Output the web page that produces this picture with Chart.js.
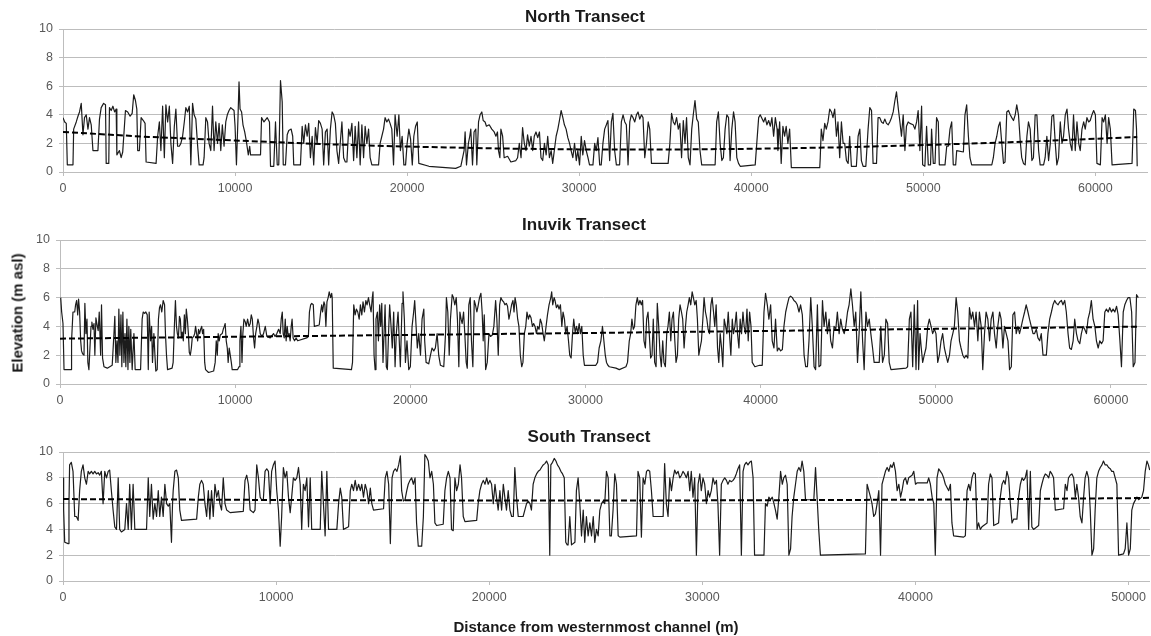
<!DOCTYPE html>
<html>
<head>
<meta charset="utf-8">
<title>Transect elevation profiles</title>
<script src="https://cdn.jsdelivr.net/npm/chart.js@4.4.0/dist/chart.umd.min.js"></script>
<style>
  html, body { margin: 0; padding: 0; background: #fff; }
  body { width: 1151px; height: 636px; position: relative; overflow: hidden; font-family: "Liberation Sans", Arial, sans-serif; }
  .panel { position: absolute; left: 0; }
  .panel-title { position: absolute; transform: translate(-50%, -50%); font-weight: bold; font-size: 17px; line-height: 20px; color: #1a1a1a; white-space: nowrap; }
  .y-title { position: absolute; left: 17px; top: 313px; transform: translate(-50%, -50%) rotate(-90deg); font-weight: bold; font-size: 15px; color: #1a1a1a; white-space: nowrap; }
  .x-title { position: absolute; left: 596px; top: 626px; transform: translate(-50%, -50%); font-weight: bold; font-size: 15px; color: #1a1a1a; white-space: nowrap; }
</style>
</head>
<body>
<canvas id="northChart" class="panel" width="1151" height="200" style="top:0px"></canvas>
<canvas id="inuvikChart" class="panel" width="1151" height="200" style="top:211px"></canvas>
<canvas id="southChart" class="panel" width="1151" height="200" style="top:423px"></canvas>
<div class="panel-title" style="left:585px; top:17px">North Transect</div>
<div class="panel-title" style="left:584px; top:225px">Inuvik Transect</div>
<div class="panel-title" style="left:589px; top:437px">South Transect</div>
<div class="y-title">Elevation (m asl)</div>
<div class="x-title">Distance from westernmost channel (m)</div>
<script>
// Tick labels
const elevationTicks = [0, 2, 4, 6, 8, 10];
const northDistanceTicks = [0, 10000, 20000, 30000, 40000, 50000, 60000];
const inuvikDistanceTicks = [0, 10000, 20000, 30000, 40000, 50000, 60000];
const southDistanceTicks = [0, 10000, 20000, 30000, 40000, 50000];

// [distance (m), elevation (m asl)]
const northProfile = [
  [0,3.8],[100,3.5],[190,3.4],[250,0.5],[580,0.5],[620,3.0],[770,3.5],[870,3.9],[960,4.2],[1060,4.8],
  [1160,2.6],[1250,3.8],[1350,4.0],[1450,3.0],[1540,3.8],[1640,3.3],[1740,1.5],[2030,1.5],[2120,3.7],[2220,4.5],
  [2360,4.8],[2470,4.7],[2510,0.6],[2660,0.6],[2700,4.5],[2800,4.3],[2900,4.6],[3000,4.2],[3090,4.4],[3130,1.2],
  [3280,1.5],[3380,1.0],[3470,1.4],[3630,4.3],[3760,4.2],[3900,3.9],[4020,4.1],[4110,5.4],[4210,5.0],[4290,4.4],
  [4340,1.5],[4440,1.5],[4540,3.8],[4670,3.6],[4770,3.4],[4830,0.7],[5410,0.6],[5500,2.5],[5600,3.5],[5690,1.5],
  [5790,4.6],[5890,1.0],[5980,4.7],[6080,3.5],[6180,4.6],[6270,2.0],[6370,0.6],[6470,3.2],[6560,4.4],[6660,1.8],
  [6760,1.8],[6850,2.0],[6950,2.5],[7050,3.5],[7140,4.5],[7240,4.2],[7340,4.6],[7430,0.5],[7530,4.8],[7620,4.0],
  [7720,3.7],[7820,1.9],[7910,0.5],[8140,0.5],[8200,1.0],[8300,3.8],[8400,3.5],[8490,2.0],[8590,1.5],[8690,4.6],
  [8780,1.5],[8880,3.5],[8980,2.0],[9070,3.4],[9170,1.5],[9260,3.3],[9360,1.8],[9460,3.5],[9550,4.0],[9650,4.3],
  [9750,4.5],[9840,4.4],[9940,4.3],[10000,3.2],[10080,0.5],[10170,3.8],[10230,6.3],[10290,4.4],[10380,4.2],[10460,3.3],
  [10560,2.8],[10650,2.2],[10770,1.2],[10850,1.8],[10900,1.2],[11480,1.2],[11540,3.8],[11680,3.5],[11870,3.8],[12000,3.5],
  [12060,0.4],[12250,0.4],[12350,3.5],[12450,0.5],[12540,0.5],[12640,6.4],[12740,4.9],[12800,0.5],[12930,0.5],[13030,2.6],
  [13120,2.9],[13260,3.0],[13350,2.5],[13410,0.5],[13800,0.5],[13900,3.2],[13990,2.0],[14090,3.3],[14190,2.5],[14280,3.4],
  [14380,1.0],[14480,2.5],[14570,0.5],[14670,3.1],[14770,2.0],[14860,3.6],[14960,3.4],[15060,3.0],[15150,0.5],[15250,2.8],
  [15350,3.0],[15440,0.5],[15540,3.0],[15640,4.2],[15730,4.0],[15830,3.4],[15920,1.5],[16020,0.6],[16210,3.5],[16310,1.0],
  [16410,0.7],[16500,0.7],[16600,3.0],[16690,2.5],[16790,3.4],[16890,0.8],[16980,3.2],[17080,1.0],[17180,3.5],[17270,0.5],
  [17370,3.3],[17470,1.0],[17560,3.2],[17660,2.0],[17760,3.0],[17850,1.0],[17950,0.5],[18340,0.5],[18430,2.0],[18530,2.5],
  [18630,3.0],[18720,3.8],[18820,3.5],[18920,3.7],[19010,3.4],[19110,3.0],[19210,0.5],[19300,4.0],[19420,2.5],[19520,4.0],
  [19610,1.5],[19710,2.5],[19810,0.5],[19910,0.5],[20000,2.0],[20100,3.0],[20200,2.3],[20300,0.5],[20390,2.5],[20490,3.2],
  [20590,3.5],[20680,0.6],[21270,0.4],[22240,0.3],[22820,0.25],[23120,0.4],[23310,1.5],[23370,2.8],[23450,0.5],[23560,2.0],
  [23640,2.5],[23700,3.0],[23800,0.5],[23890,2.8],[23990,3.0],[24050,0.5],[24150,3.5],[24240,4.0],[24340,4.2],[24420,3.6],
  [24530,3.5],[24610,3.2],[24770,3.3],[24920,3.0],[25060,2.8],[25160,2.5],[25250,2.8],[25310,1.5],[25390,1.0],[25450,3.0],
  [25550,2.5],[25640,1.0],[25840,1.1],[26030,0.7],[26320,0.8],[26420,1.0],[26520,2.0],[26620,1.0],[26710,3.1],[26810,2.0],
  [26910,1.5],[27000,2.6],[27100,1.8],[27200,2.5],[27300,1.5],[27390,2.5],[27490,2.8],[27590,2.4],[27690,2.8],[27780,1.0],
  [27880,0.8],[27980,2.0],[28080,1.2],[28170,2.5],[28270,1.0],[28370,1.5],[28460,0.6],[28660,2.5],[28760,3.0],[28850,3.6],
  [28950,4.3],[29050,3.8],[29140,3.3],[29240,3.0],[29340,2.4],[29440,2.0],[29530,1.5],[29630,1.0],[29730,2.0],[29830,0.8],
  [29920,1.5],[30020,0.5],[30120,2.5],[30210,1.2],[30310,2.2],[30410,1.5],[30510,1.0],[30600,0.5],[30800,0.5],[30900,2.0],
  [30990,1.5],[31090,2.4],[31190,0.5],[31280,0.5],[31380,2.0],[31480,3.0],[31580,3.3],[31670,3.6],[31770,0.8],[31870,3.5],
  [31960,4.1],[32060,1.5],[32160,0.5],[32350,0.5],[32450,3.5],[32550,4.0],[32650,3.5],[32740,3.3],[32840,0.5],[32940,3.5],
  [33030,4.0],[33130,3.8],[33230,3.5],[33330,4.0],[33420,4.2],[33520,3.7],[33620,4.0],[33710,3.8],[33810,1.0],[33910,2.0],
  [34010,3.5],[34100,3.0],[34200,0.6],[35170,0.6],[35270,2.0],[35370,4.1],[35470,3.5],[35560,3.3],[35660,3.8],[35760,3.0],
  [35850,3.4],[35950,1.0],[36050,3.6],[36150,2.0],[36240,3.8],[36340,1.0],[36440,0.5],[36540,3.0],[36630,4.0],[36730,5.0],
  [36830,3.7],[36920,3.5],[37020,1.5],[37120,0.5],[37900,0.5],[37990,3.5],[38090,4.2],[38190,2.0],[38290,0.8],[38380,1.0],
  [38480,3.0],[38580,4.0],[38680,3.8],[38770,0.8],[38870,3.0],[38970,4.2],[39060,3.5],[39160,1.0],[39260,0.6],[39360,0.4],
  [40230,0.5],[40430,3.8],[40520,4.0],[40720,3.5],[40810,3.8],[40910,3.3],[41010,3.6],[41110,3.2],[41200,3.8],[41300,2.5],
  [41400,3.8],[41500,3.0],[41550,1.5],[41650,3.5],[41740,0.6],[41840,3.2],[41940,2.5],[42030,3.2],[42130,2.0],[42230,3.0],
  [42330,0.3],[43980,0.3],[44010,1.0],[44070,3.0],[44170,2.2],[44270,3.4],[44360,3.0],[44460,3.5],[44560,4.4],[44660,4.2],
  [44750,3.8],[44850,4.4],[44950,2.5],[45040,3.5],[45140,1.0],[45240,3.5],[45340,2.0],[45430,2.0],[45530,0.8],[45630,0.6],
  [45720,2.5],[45820,0.4],[46110,0.4],[46210,2.5],[46310,3.0],[46400,0.8],[46500,0.4],[46660,0.4],[46790,3.0],[46890,4.5],
  [46990,4.3],[47080,0.6],[47280,0.6],[47370,3.8],[47470,3.8],[47570,3.5],[47670,3.4],[47760,3.7],[47860,3.4],[47960,3.3],
  [48050,3.5],[48150,3.8],[48250,4.2],[48350,5.0],[48440,5.6],[48540,4.5],[48640,3.5],[48730,2.5],[48830,4.0],[48930,1.5],
  [49020,3.2],[49120,3.5],[49220,3.4],[49410,3.3],[49510,3.0],[49610,3.5],[49700,4.3],[49800,1.5],[49900,4.6],[49960,0.5],
  [50090,0.4],[50190,3.2],[50290,0.5],[50420,0.5],[50480,3.0],[50580,0.6],[50680,0.6],[50770,3.8],[50870,3.5],[50930,0.5],
  [51260,0.5],[51360,1.8],[51450,1.8],[51550,3.0],[51650,3.5],[51740,0.5],[51880,0.5],[51940,1.5],[52330,1.4],[52420,4.0],
  [52520,4.7],[52620,2.5],[52710,1.0],[52810,0.5],[53980,0.5],[54070,1.0],[54170,2.0],[54270,2.5],[54370,3.2],[54460,3.5],
  [54560,2.0],[54660,0.6],[54750,0.7],[54850,4.2],[54950,4.3],[55050,4.0],[55140,3.8],[55240,3.6],[55340,4.0],[55430,4.7],
  [55530,4.0],[55630,2.2],[55720,1.0],[55820,0.6],[55920,0.5],[56020,2.5],[56110,3.5],[56210,3.0],[56310,0.8],[56400,1.0],
  [56500,4.0],[56600,4.0],[56700,1.5],[56790,0.5],[56990,0.5],[57080,1.0],[57180,2.5],[57280,0.8],[57380,2.0],[57470,3.9],
  [57570,4.0],[57670,2.0],[57760,0.5],[57860,1.0],[57960,3.5],[58060,2.0],[58150,2.5],[58250,4.0],[58350,4.4],[58440,3.0],
  [58540,2.0],[58640,1.5],[58730,4.0],[58830,1.5],[58930,3.5],[59030,2.0],[59120,1.5],[59220,3.0],[59320,3.5],[59410,3.0],
  [59510,3.8],[59610,3.5],[59700,3.6],[59800,4.0],[59900,4.3],[60000,4.0],[60090,0.6],[60290,0.5],[60390,3.8],[60480,3.5],
  [60580,4.0],[60680,2.0],[60770,3.8],[60870,3.0],[60970,0.5],[62130,0.6],[62230,4.4],[62330,4.3],[62390,3.0],[62430,0.4]
];
const northTrend = [
  [0,2.8],[5000,2.45],[10000,2.2],[15000,1.95],[20000,1.78],[25000,1.65],[30000,1.58],
  [35000,1.57],[40000,1.62],[45000,1.72],[50000,1.88],[55000,2.08],[60000,2.32],[62430,2.45]
];

const inuvikProfile = [
  [40,6.0],[95,5.0],[170,4.2],[230,1.0],[650,1.0],[660,3.0],[740,5.0],[840,5.0],[890,5.5],[950,5.8],
  [1010,4.8],[1060,5.9],[1120,5.0],[1180,3.0],[1230,2.3],[1290,2.1],[1370,2.0],[1420,5.6],[1480,3.5],[1540,4.5],
  [1590,1.5],[1650,1.0],[1710,2.5],[1770,4.0],[1820,4.3],[1880,3.8],[1940,4.2],[1990,2.0],[2050,4.6],[2130,4.0],
  [2180,3.7],[2240,5.0],[2320,2.0],[2370,5.5],[2430,1.8],[2510,1.2],[2700,1.1],[2980,1.3],[3080,3.5],[3130,4.7],
  [3190,1.5],[3250,3.0],[3310,1.5],[3360,5.2],[3420,2.0],[3480,4.8],[3530,1.2],[3590,5.0],[3650,1.5],[3710,3.5],
  [3760,1.2],[3820,4.5],[3880,1.0],[3930,4.0],[3990,1.5],[4040,3.8],[4120,1.0],[4220,3.5],[4290,1.0],[4600,1.0],
  [4690,4.5],[4750,5.0],[4830,4.9],[4900,5.0],[4980,4.8],[5040,1.0],[5090,5.0],[5170,3.0],[5230,4.0],[5280,1.5],
  [5360,3.5],[5420,2.0],[5470,0.9],[5550,1.0],[5620,4.5],[5680,5.3],[5740,5.5],[5810,5.0],[5890,5.8],[5970,5.5],
  [6020,3.5],[6080,2.0],[6140,1.0],[6400,1.1],[6460,1.5],[6530,4.0],[6590,5.8],[6650,4.0],[6700,3.5],[6760,3.2],
  [6820,4.7],[6870,4.5],[6930,3.2],[6980,3.6],[7040,3.0],[7100,4.8],[7160,3.5],[7210,5.2],[7270,4.5],[7330,3.5],
  [7380,2.2],[7440,2.0],[7500,2.5],[7550,3.2],[7630,3.3],[7690,3.5],[7740,4.0],[7800,3.5],[7860,3.0],[7910,3.8],
  [7970,3.5],[8030,3.8],[8090,4.0],[8140,3.5],[8200,3.8],[8260,1.5],[8310,1.0],[8480,0.8],[8770,0.9],[8860,1.5],
  [8920,3.0],[8980,2.0],[9030,3.5],[9090,3.0],[9150,3.4],[9260,3.5],[9320,3.8],[9380,4.0],[9430,4.2],[9490,3.0],
  [9550,2.5],[9600,1.5],[9660,2.5],[9720,2.0],[9780,1.5],[9830,1.0],[10140,1.0],[10220,1.2],[10270,3.0],[10330,4.0],
  [10390,1.5],[10440,3.5],[10500,4.5],[10580,4.3],[10630,4.0],[10710,4.5],[10790,4.0],[10860,4.2],[10920,4.8],[10980,4.5],
  [11050,3.2],[11110,2.5],[11170,3.5],[11240,4.0],[11300,4.5],[11360,4.2],[11430,3.5],[11530,3.3],[11620,3.5],[11720,4.0],
  [11810,3.3],[12000,3.2],[12190,3.5],[12280,3.3],[12380,3.5],[12480,3.8],[12570,3.5],[12630,4.5],[12690,5.0],[12740,3.5],
  [12800,3.2],[12860,4.5],[12910,3.0],[12970,4.0],[13030,3.3],[13080,3.5],[13140,3.0],[13200,4.0],[13250,4.5],[13310,3.2],
  [13390,3.0],[13480,3.2],[13570,3.0],[14080,3.2],[14180,3.3],[14240,5.0],[14310,5.5],[14370,5.6],[14460,5.5],[14520,4.0],
  [14800,4.1],[14880,5.0],[14940,5.5],[14990,5.0],[15070,5.7],[15120,5.5],[15180,4.0],[15240,5.7],[15310,6.0],[15370,6.4],
  [15450,6.0],[15510,6.3],[15540,6.0],[15600,1.1],[16640,1.0],[16700,1.5],[16770,5.5],[16850,4.8],[16920,5.2],[17000,5.0],
  [17080,4.5],[17150,5.5],[17230,4.8],[17300,5.7],[17380,5.0],[17460,5.8],[17530,5.5],[17610,6.0],[17680,5.5],[17760,5.0],
  [17830,6.0],[17870,6.4],[17930,2.0],[17990,1.0],[18040,4.5],[18120,5.0],[18180,3.0],[18250,5.5],[18310,4.0],[18370,5.6],
  [18440,1.5],[18500,3.5],[18560,5.5],[18630,1.2],[18690,1.0],[18770,4.0],[18820,5.5],[18900,4.0],[18970,2.5],[19050,5.0],
  [19130,1.2],[19200,3.5],[19300,5.0],[19430,1.2],[19530,5.6],[19580,6.4],[19660,4.5],[19720,1.5],[19810,3.0],[19910,1.0],
  [20000,1.2],[20100,4.0],[20190,5.0],[20250,5.8],[20330,4.0],[20400,2.5],[20480,3.5],[20580,2.0],[20670,4.5],[20770,5.2],
  [20820,3.0],[20900,1.5],[21050,1.4],[21150,2.0],[21240,2.5],[21340,2.3],[21430,2.5],[21530,3.5],[21620,2.0],[21720,1.3],
  [21910,1.2],[22010,3.5],[22060,6.0],[22140,5.0],[22220,2.0],[22290,4.5],[22390,6.2],[22460,6.0],[22540,5.5],[22620,6.0],
  [22690,4.5],[22770,1.2],[22830,5.0],[22900,4.5],[22960,4.2],[23040,5.0],[23110,3.5],[23190,1.5],[23250,1.1],[23340,5.5],
  [23420,6.0],[23490,3.0],[23570,1.2],[23650,5.8],[23720,5.5],[23800,5.0],[23880,5.5],[23950,6.0],[24030,6.3],[24100,5.0],
  [24160,3.0],[24220,4.8],[24300,1.0],[24390,1.5],[24490,3.5],[24580,3.3],[24680,3.4],[24770,4.0],[24870,5.8],[24940,4.5],
  [25020,2.0],[25100,5.5],[25170,6.0],[25250,5.8],[25330,5.7],[25400,5.5],[25480,5.6],[25550,5.4],[25630,4.5],[25710,5.0],
  [25780,5.5],[25860,5.8],[25920,5.0],[25980,6.0],[26050,5.5],[26130,4.5],[26200,4.0],[26280,2.0],[26360,1.2],[26430,1.5],
  [26510,3.5],[26590,4.0],[26660,5.0],[26740,4.5],[26810,4.8],[26890,4.6],[26970,4.0],[27040,4.2],[27120,4.0],[27200,3.5],
  [27270,4.0],[27350,3.8],[27420,4.5],[27500,4.2],[27580,3.5],[27650,3.0],[27730,3.8],[27830,4.8],[27920,5.5],[28020,6.0],
  [28070,6.4],[28130,5.5],[28210,6.0],[28260,5.8],[28340,5.3],[28420,5.5],[28490,5.2],[28570,5.5],[28650,4.0],[28720,5.0],
  [28800,4.5],[28870,3.5],[28950,4.0],[29030,3.0],[29100,2.0],[29180,1.8],[29260,3.5],[29330,4.5],[29410,3.6],[29490,4.0],
  [29560,3.5],[29640,4.2],[29710,3.5],[29790,4.0],[29870,2.0],[29940,1.3],[30590,1.3],[30690,1.5],[30780,2.5],[30880,3.0],
  [30970,4.0],[31050,3.0],[31130,2.0],[31200,1.5],[31280,1.3],[31360,1.2],[31740,1.1],[31930,1.0],[32310,1.2],[32400,1.5],
  [32500,3.0],[32580,3.5],[32650,4.5],[32730,3.8],[32800,4.0],[32880,5.5],[32960,6.0],[33030,5.5],[33110,5.8],[33190,5.5],
  [33260,5.8],[33340,3.0],[33420,2.5],[33490,4.5],[33570,5.0],[33640,3.5],[33720,1.8],[33800,2.0],[33870,4.5],[33950,1.5],
  [34030,1.2],[34100,5.6],[34180,4.0],[34260,2.0],[34330,1.2],[34410,3.0],[34480,1.5],[34560,1.2],[34640,3.5],[34710,4.0],
  [34790,5.0],[34870,3.0],[34940,4.5],[35020,5.0],[35100,3.0],[35170,1.5],[35250,2.0],[35320,4.5],[35400,5.5],[35480,5.0],
  [35550,4.5],[35630,2.5],[35710,4.0],[35780,5.0],[35860,5.5],[35930,6.0],[36010,5.5],[36090,6.4],[36160,6.0],[36240,5.5],
  [36320,5.8],[36390,4.5],[36470,2.0],[36540,2.5],[36620,3.0],[36700,4.5],[36770,6.0],[36850,5.0],[36930,4.5],[37000,3.8],
  [37080,3.5],[37160,5.5],[37230,6.0],[37310,5.0],[37380,4.0],[37460,5.5],[37540,2.5],[37610,1.5],[37690,3.5],[37770,2.5],
  [37840,1.2],[37920,4.5],[38000,4.0],[38070,3.5],[38150,5.0],[38220,3.5],[38300,2.0],[38380,4.5],[38450,3.5],[38530,4.0],
  [38610,5.0],[38680,3.5],[38760,2.5],[38830,4.5],[38910,3.5],[38990,5.0],[39060,4.0],[39140,3.5],[39220,5.2],[39290,3.0],
  [39370,5.0],[39450,4.0],[39520,1.5],[39670,1.2],[39940,1.3],[40090,1.3],[40190,5.0],[40280,6.3],[40380,5.5],[40470,4.5],
  [40570,5.5],[40660,3.0],[40760,2.5],[40850,4.5],[40950,2.3],[41040,2.5],[41140,2.3],[41240,2.4],[41330,4.0],[41430,5.0],
  [41520,5.5],[41620,6.0],[41710,6.1],[41810,6.0],[41900,5.8],[42000,5.7],[42090,5.5],[42190,5.0],[42280,5.5],[42380,4.8],
  [42480,2.0],[42570,1.2],[42670,1.2],[42760,3.0],[42860,6.0],[42950,4.0],[43050,1.2],[43140,1.0],[43240,5.5],[43330,1.2],
  [43430,1.3],[43530,5.8],[43620,4.0],[43720,5.0],[43810,3.5],[43910,4.5],[44000,3.0],[44100,2.5],[44190,4.0],[44290,3.8],
  [44380,5.0],[44480,3.5],[44570,4.5],[44670,3.8],[44770,3.5],[44860,4.0],[44960,5.0],[45050,5.5],[45150,6.6],[45240,5.5],
  [45340,4.0],[45430,5.0],[45530,1.5],[45620,3.5],[45720,6.4],[45820,3.0],[45910,1.0],[46010,5.0],[46100,4.0],[46200,4.5],
  [46290,3.5],[46390,2.5],[46480,1.5],[46770,1.5],[46860,4.0],[46960,1.5],[47060,2.0],[47150,4.5],[47250,4.2],[47340,1.5],
  [47440,1.0],[48300,1.1],[48390,1.2],[48490,4.5],[48580,5.0],[48680,1.2],[48770,5.5],[48870,1.0],[48960,5.8],[49020,1.0],
  [49100,3.5],[49170,2.5],[49250,1.5],[49340,2.0],[49440,2.5],[49540,4.0],[49630,4.5],[49730,4.0],[49820,3.5],[49920,3.8],
  [50010,3.5],[50110,1.5],[50200,2.0],[50300,3.0],[50390,3.5],[50490,2.5],[50580,2.0],[50680,1.5],[50780,2.0],[50870,3.0],
  [50970,3.5],[51060,4.0],[51160,6.0],[51250,5.0],[51350,3.0],[51440,2.5],[51540,2.0],[51630,1.8],[51730,2.0],[51830,1.8],
  [51920,5.3],[52020,4.5],[52110,5.0],[52210,4.0],[52300,5.0],[52400,3.0],[52490,5.0],[52590,4.0],[52680,1.0],[52780,3.5],
  [52870,5.0],[52970,4.5],[53070,3.0],[53160,4.5],[53260,5.0],[53350,3.5],[53450,2.5],[53540,4.0],[53640,5.0],[53730,4.5],
  [53830,2.5],[53920,4.0],[54020,3.5],[54120,3.0],[54210,1.0],[54310,1.2],[54400,4.8],[54500,5.0],[54590,3.5],[54690,4.0],
  [54780,3.5],[54880,4.0],[54970,4.5],[55070,5.0],[55160,5.5],[55260,5.0],[55350,4.5],[55450,4.0],[55550,3.5],[55640,3.5],
  [55740,3.8],[55830,3.2],[55930,3.0],[56020,3.5],[56120,2.0],[56310,2.0],[56400,3.5],[56500,4.5],[56600,5.0],[56690,5.5],
  [56790,5.8],[56880,5.6],[56980,5.5],[57070,5.7],[57170,5.8],[57260,5.5],[57360,5.8],[57450,5.0],[57550,3.5],[57640,2.5],
  [57740,2.4],[57840,3.0],[57930,4.5],[58030,3.5],[58120,3.0],[58220,2.8],[58310,3.5],[58410,4.0],[58500,3.8],[58600,3.5],
  [58690,4.5],[58790,5.0],[58880,5.8],[58980,4.5],[59080,4.0],[59170,3.0],[59270,2.5],[59360,3.0],[59460,2.8],[59550,3.0],
  [59650,5.0],[59740,5.2],[59840,5.0],[59930,5.3],[60030,5.0],[60120,5.2],[60220,5.0],[60320,5.4],[60410,4.8],[60510,3.0],
  [60600,1.2],[60700,5.0],[60790,5.5],[60890,5.8],[60980,6.0],[61080,6.0],[61180,5.0],[61270,1.2],[61370,1.5],[61460,6.2],
  [61560,6.0]
];
const inuvikTrend = [
  [0,3.15],[10000,3.28],[20000,3.41],[30000,3.54],[40000,3.68],[50000,3.83],[61560,3.98]
];

const southProfile = [
  [0,8.0],[30,5.5],[80,3.0],[240,2.9],[280,6.0],[310,9.0],[390,9.2],[470,8.5],[550,5.0],[630,5.0],
  [710,4.7],[780,7.0],[860,8.5],[940,9.0],[1020,8.0],[1100,7.5],[1180,8.5],[1250,8.3],[1330,8.5],[1410,8.3],
  [1490,8.5],[1570,8.3],[1650,8.4],[1720,8.2],[1800,8.5],[1880,6.0],[1960,8.5],[2040,8.0],[2120,8.5],[2190,8.6],
  [2270,7.0],[2350,5.5],[2430,4.2],[2510,4.0],[2590,8.0],[2660,4.0],[2740,3.8],[2900,4.0],[2980,6.0],[3060,4.0],
  [3130,7.5],[3210,4.0],[3290,7.5],[3370,4.0],[3920,4.0],[4000,8.0],[4070,5.0],[4150,7.5],[4230,4.8],[4310,6.0],
  [4390,5.0],[4470,7.0],[4540,5.0],[4620,6.5],[4700,5.0],[4780,7.5],[4860,6.0],[4940,5.8],[5010,6.0],[5090,3.0],
  [5140,6.0],[5170,7.0],[5250,8.5],[5330,8.6],[5410,8.0],[5480,5.5],[5560,4.7],[6270,4.8],[6350,6.5],[6420,7.5],
  [6500,7.8],[6580,7.5],[6660,6.0],[6740,5.0],[6820,7.0],[6890,4.8],[6970,7.0],[7050,5.0],[7130,7.5],[7210,6.5],
  [7290,7.0],[7360,6.0],[7440,5.5],[7520,8.0],[7600,6.0],[7680,5.5],[7840,5.3],[8460,5.4],[8540,7.8],[8620,8.2],
  [8700,7.5],[8780,5.5],[8930,5.3],[9010,5.5],[9090,9.0],[9170,8.0],[9250,6.5],[9320,6.3],[9400,6.3],[9480,8.5],
  [9560,8.7],[9640,8.5],[9720,6.0],[9790,8.5],[9870,9.0],[9950,9.3],[10030,7.0],[10110,5.5],[10190,2.7],[10260,5.0],
  [10340,8.8],[10420,8.0],[10500,8.5],[10580,6.5],[10660,5.3],[10730,6.5],[10810,8.0],[10890,7.8],[10970,8.0],[11050,8.8],
  [11130,7.5],[11200,4.0],[11280,7.5],[11360,7.0],[11440,8.0],[11520,4.2],[11600,8.0],[11670,4.0],[12070,4.0],[12140,8.5],
  [12220,6.0],[12300,3.5],[12380,8.5],[12460,4.0],[12850,4.0],[12930,6.0],[13010,7.2],[13080,6.5],[13160,4.0],[13400,4.2],
  [13480,7.0],[13550,7.5],[13630,7.0],[13710,7.8],[13790,7.0],[13870,7.5],[13950,7.0],[14020,7.5],[14100,6.5],[14180,7.5],
  [14260,7.0],[14340,6.0],[14420,7.2],[14490,6.0],[14570,5.5],[15040,5.6],[15120,8.0],[15200,8.5],[15280,7.5],[15360,2.9],
  [15440,8.0],[15510,8.5],[15590,8.7],[15670,8.5],[15750,9.0],[15830,9.7],[15890,7.0],[15970,6.2],[16050,6.3],[16130,7.0],
  [16200,7.5],[16280,7.8],[16360,8.0],[16440,7.5],[16520,8.0],[16590,4.5],[16670,2.7],[16830,2.7],[16910,5.0],[16980,9.8],
  [17060,9.6],[17140,9.3],[17220,8.0],[17300,8.5],[17380,7.5],[17450,4.5],[17530,4.3],[17840,4.4],[17920,7.0],[18000,8.0],
  [18080,8.5],[18160,8.0],[18230,4.0],[18310,3.9],[18390,8.0],[18470,7.0],[18550,7.5],[18630,9.0],[18700,8.0],[18780,5.0],
  [18860,4.6],[19410,4.7],[19480,6.0],[19560,7.0],[19640,7.5],[19720,7.8],[19800,7.5],[19880,8.0],[19950,7.5],[20030,7.8],
  [20110,7.5],[20190,6.0],[20270,7.5],[20340,6.5],[20420,5.5],[20500,7.0],[20580,5.5],[20660,7.5],[20730,6.5],[20810,5.5],
  [20890,7.0],[20970,5.5],[21050,5.0],[21130,5.0],[21200,8.8],[21280,6.5],[21360,5.0],[21590,5.0],[21670,5.5],[21750,6.0],
  [21830,6.2],[21910,6.0],[21980,5.5],[22060,7.5],[22140,8.0],[22220,8.3],[22300,8.5],[22380,8.6],[22450,8.8],[22530,9.0],
  [22610,9.1],[22690,9.3],[22770,9.0],[22840,2.0],[22890,9.0],[22970,9.2],[23050,9.5],[23130,9.3],[23200,9.0],[23280,8.8],
  [23360,8.5],[23440,8.3],[23520,8.0],[23590,3.0],[23660,2.8],[23700,2.8],[23780,5.0],[23860,2.8],[24020,3.0],[24090,7.0],
  [24170,8.0],[24250,6.0],[24330,3.5],[24410,5.5],[24480,3.0],[24560,5.0],[24640,3.5],[24720,4.5],[24800,3.5],[24880,5.0],
  [24950,3.0],[25030,4.0],[25110,3.5],[25190,5.5],[25270,6.0],[25340,6.2],[25420,6.0],[25500,8.5],[25580,8.0],[25660,3.5],
  [25730,3.5],[25810,5.5],[25890,8.3],[25970,7.5],[26050,3.5],[26130,3.4],[26910,3.5],[26980,8.5],[27060,8.0],[27140,3.4],
  [27220,8.0],[27300,7.5],[27380,8.5],[27450,8.6],[27530,8.5],[27610,7.0],[27690,5.0],[28160,5.0],[28230,9.1],[28310,6.0],
  [28390,5.0],[28470,8.0],[28550,7.0],[28630,8.0],[28700,8.6],[28780,8.3],[28860,8.5],[28940,8.0],[29020,8.2],[29090,8.5],
  [29170,8.3],[29250,8.0],[29330,8.5],[29410,7.0],[29480,8.5],[29560,6.5],[29640,8.0],[29720,2.0],[29800,7.5],[29880,8.3],
  [29950,7.0],[30030,8.0],[30110,7.5],[30190,6.0],[30270,7.0],[30340,6.5],[30420,7.0],[30500,8.0],[30580,7.5],[30660,7.8],
  [30730,6.0],[30810,2.0],[30890,7.5],[30970,7.8],[31050,8.0],[31130,7.8],[31200,7.5],[31280,7.8],[31360,7.7],[31440,7.8],
  [31520,8.0],[31590,8.3],[31670,8.7],[31750,9.0],[31830,2.0],[31910,8.5],[31980,9.0],[32060,9.2],[32140,9.0],[32220,9.2],
  [32300,9.3],[32380,8.0],[32450,2.0],[32890,2.0],[32960,6.0],[33040,5.8],[33120,6.5],[33200,6.3],[33280,6.5],[33360,6.0],
  [33430,5.5],[33510,4.8],[33590,6.5],[33670,8.5],[33750,7.5],[33820,8.0],[33900,8.2],[33980,7.5],[34060,2.0],[34140,2.5],
  [34210,5.0],[34290,6.5],[34370,7.5],[34450,8.5],[34530,8.8],[34610,8.5],[34680,9.3],[34760,8.5],[34840,6.3],[35230,6.3],
  [35310,8.8],[35390,6.3],[35460,4.0],[35540,2.0],[37650,2.1],[37730,7.5],[37810,7.0],[37890,6.5],[37960,6.0],[38040,5.0],
  [38120,5.2],[38200,6.0],[38280,7.0],[38360,2.0],[38430,7.5],[38510,8.0],[38590,8.5],[38670,8.8],[38750,8.5],[38830,9.0],
  [38900,8.8],[38980,9.2],[39060,8.5],[39140,7.0],[39220,7.5],[39300,6.5],[39370,7.0],[39450,7.8],[39530,8.0],[39610,7.5],
  [39680,8.0],[39840,8.2],[39920,8.5],[40000,7.5],[40070,7.6],[40550,7.6],[40620,8.0],[40700,7.5],[40780,6.5],[40860,6.0],
  [40930,2.0],[41010,8.0],[41090,8.7],[41170,8.5],[41250,8.3],[41320,8.0],[41400,7.5],[41560,7.0],[41640,7.5],[41710,4.5],
  [41790,3.5],[42260,3.4],[42340,3.5],[42420,7.0],[42500,7.5],[42570,7.0],[42650,8.0],[42730,8.4],[42810,8.3],[42890,4.0],
  [42960,4.5],[43040,4.0],[43120,4.2],[43360,4.5],[43430,7.5],[43510,8.3],[43590,8.0],[43670,4.3],[43900,4.5],[43980,6.5],
  [44060,7.5],[44140,7.8],[44210,7.5],[44290,8.5],[44370,8.0],[44450,6.0],[44530,4.5],[44610,4.8],[44760,4.8],[44840,6.5],
  [44920,7.5],[45000,8.0],[45070,7.8],[45150,8.0],[45230,8.6],[45310,4.0],[45390,8.5],[45460,4.2],[45540,4.0],[45780,4.3],
  [45860,7.0],[45930,7.5],[46010,8.0],[46090,8.3],[46170,8.2],[46250,8.0],[46320,8.5],[46400,8.3],[46480,8.0],[46560,5.5],
  [46950,5.6],[47030,7.5],[47110,7.0],[47180,8.0],[47260,8.2],[47340,8.3],[47420,8.0],[47500,6.5],[47570,7.5],[47650,6.5],
  [47730,5.0],[47810,4.5],[47890,6.5],[47960,8.0],[48040,8.5],[48120,8.0],[48200,5.5],[48280,2.0],[48360,2.5],[48430,5.5],
  [48510,8.0],[48590,8.5],[48670,8.8],[48750,9.0],[48820,9.3],[48900,9.0],[48980,9.0],[49060,8.8],[49140,8.7],[49210,8.5],
  [49290,8.5],[49370,8.0],[49450,7.5],[49530,2.0],[49760,2.1],[49840,2.5],[49920,4.5],[50000,2.0],[50080,2.5],[50150,5.5],
  [50230,6.0],[50390,6.5],[50470,6.3],[50620,6.5],[50700,7.0],[50780,8.5],[50860,9.3],[50930,9.0],[50990,8.6]
];
const southTrend = [
  [0,6.35],[10000,6.28],[20000,6.24],[30000,6.25],[40000,6.3],[50000,6.42],[50990,6.45]
];

const FONT = '"Liberation Sans", Arial, sans-serif';
const GRID = '#bdbdbd';

function toPoints(pairs) {
  return pairs.map(([x, y]) => ({ x, y }));
}

function renderPanel(canvasId, profile, trend, distanceTicks, xMax, axisWidth, padding) {
  const ctx = document.getElementById(canvasId).getContext('2d');

  new Chart(ctx, {
    type: 'line',
    data: {
      datasets: [
        {
          data: toPoints(trend),
          borderColor: '#000',
          borderWidth: 2,
          borderDash: [6, 3],
          pointRadius: 0,
          order: 0
        },
        {
          data: toPoints(profile),
          borderColor: '#1c1c1c',
          borderWidth: 1.2,
          borderJoinStyle: 'round',
          pointRadius: 0,
          order: 1
        }
      ]
    },
    options: {
      responsive: false,
      animation: false,
      parsing: false,
      layout: { padding: padding },
      plugins: {
        legend: { display: false },
        tooltip: { enabled: false },
        title: { display: false }
      },
      scales: {
        x: {
          type: 'linear',
          min: 0,
          max: xMax,
          afterBuildTicks: scale => { scale.ticks = distanceTicks.map(v => ({ value: v })); },
          afterFit: scale => { scale.height = 25; },
          grid: { drawOnChartArea: false, drawTicks: true, tickLength: 4, color: GRID },
          border: { color: GRID },
          ticks: {
            color: '#595959',
            font: { family: FONT, size: 12.5 },
            padding: 5,
            maxRotation: 0,
            autoSkip: false,
            callback: v => String(v)
          }
        },
        y: {
          min: 0,
          max: 10,
          afterBuildTicks: scale => { scale.ticks = elevationTicks.map(v => ({ value: v })); },
          afterFit: scale => { scale.width = axisWidth; },
          grid: { color: GRID, tickLength: 4 },
          border: { color: GRID },
          ticks: {
            color: '#595959',
            font: { family: FONT, size: 12.5 },
            padding: 6,
            callback: v => String(v)
          }
        }
      }
    }
  });
}

renderPanel('northChart', northProfile, northTrend, northDistanceTicks, 63000, 63, { left: 0, top: 29, right: 4, bottom: 3 });
renderPanel('inuvikChart', inuvikProfile, inuvikTrend, inuvikDistanceTicks, 62000, 60, { left: 0, top: 29, right: 5, bottom: 2 });
renderPanel('southChart', southProfile, southTrend, southDistanceTicks, 51000, 63, { left: 0, top: 29, right: 1, bottom: 17 });
</script>
</body>
</html>
